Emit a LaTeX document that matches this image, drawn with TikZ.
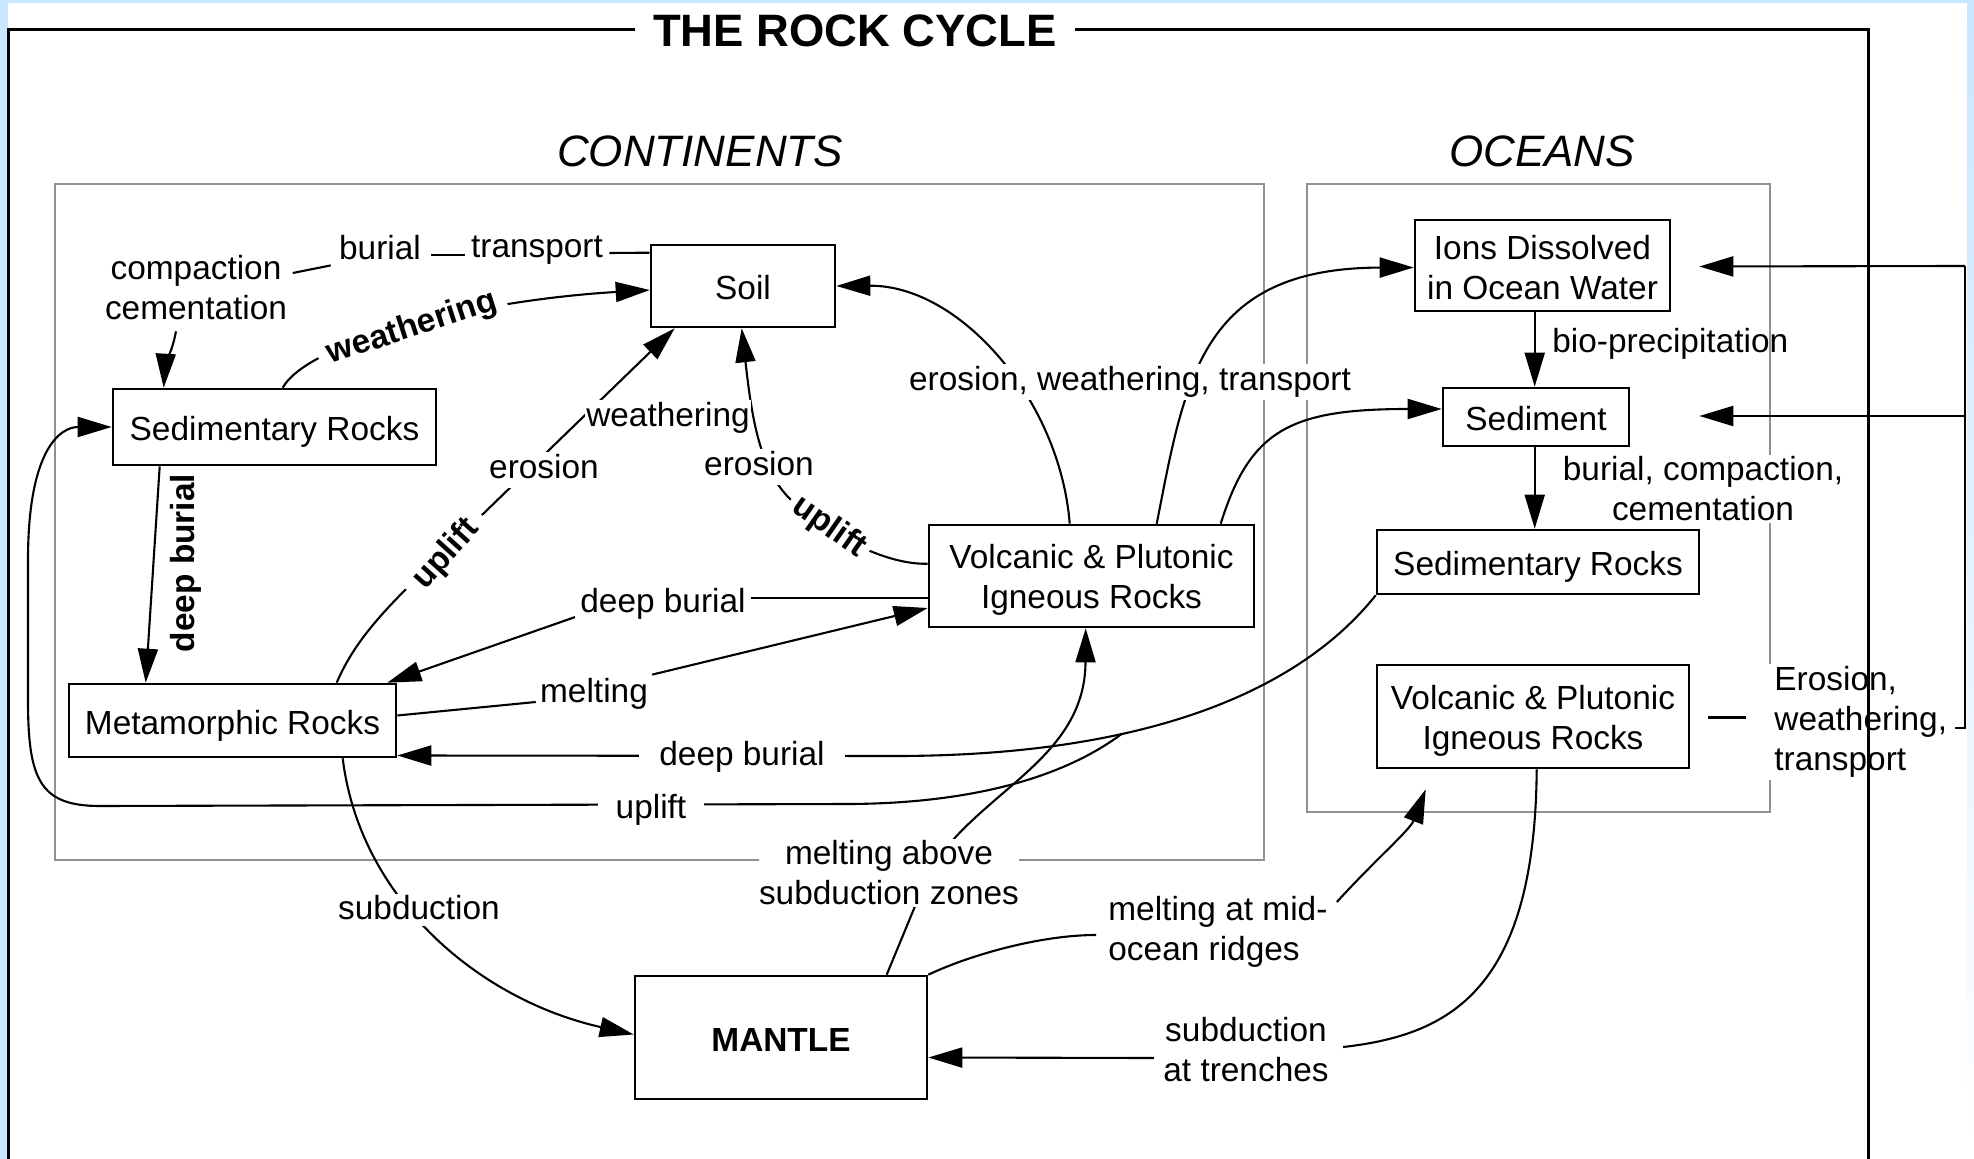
\documentclass[tikz,border=0pt]{standalone}
\usepackage{fontspec}
\setmainfont{Liberation Sans}
\usetikzlibrary{arrows.meta,calc}
\definecolor{bgblue}{RGB}{200,230,255}
\definecolor{boxgray}{RGB}{145,145,145}
\pgfdeclarelayer{fg}
\pgfdeclarelayer{top}
\pgfsetlayers{main,fg,top}
\begin{document}
\begin{tikzpicture}[x=0.5pt,y=-0.5pt,
  every node/.style={font=\fontsize{16.7}{20}\selectfont},
  rbox/.style={draw,line width=1.3pt,fill=white,align=center,inner sep=0pt},
  sbox/.style={rbox,text height=14pt,text depth=0pt},
  conn/.style={line width=1.05pt},
  arr/.style={conn,-{Triangle[length=17pt,width=10pt]}},
  lbl/.style={fill=white,inner xsep=2pt,inner ysep=1pt,text height=12.5pt,text depth=3.5pt},
  mlbl/.style={fill=white,inner xsep=2pt,inner ysep=1pt,align=center},
  blbl/.style={lbl,font=\fontsize{16.7}{20}\selectfont\bfseries},
  graybox/.style={draw=boxgray,line width=1.4pt},
  frame/.style={line width=1.5pt}
]
\useasboundingbox (0,0) rectangle (1974,1159);
% background
\fill[bgblue] (0,0) rectangle (1974,1159);
\fill[white] (8,3) rectangle (1967,1159);
\shade[top color=bgblue,bottom color=white] (1967,0) rectangle (1974,1159);

% region boxes
\draw[graybox] (55,184) rectangle (1264,860);
\draw[graybox] (1307,184) rectangle (1770,812);
\node[font=\fontsize{22}{26}\selectfont\itshape] (cont) at (700,151) {CONTINENTS};
\node[font=\fontsize{22}{26}\selectfont\itshape] (ocean) at (1542,151) {OCEANS};

% boxes
\node[sbox,minimum width=92pt,minimum height=41pt] (soil) at (743,286) {Soil};
\node[sbox,minimum width=161.5pt,minimum height=38pt] (sedc) at (274.5,427) {Sedimentary Rocks};
\node[sbox,minimum width=163.5pt,minimum height=36.5pt] (meta) at (232.5,720.5) {Metamorphic Rocks};
\node[rbox,minimum width=162.5pt,minimum height=51pt] (volc) at (1091.5,576) {\rule{0pt}{16.2pt}Volcanic \& Plutonic\\Igneous Rocks};
\node[rbox,minimum width=127.5pt,minimum height=45.5pt] (ions) at (1542.5,265.5) {\rule{0pt}{14.2pt}Ions Dissolved\\in Ocean Water};
\node[sbox,minimum width=93pt,minimum height=29pt] (sedi) at (1536,417) {Sediment};
\node[sbox,minimum width=161pt,minimum height=32pt] (sedo) at (1538,562) {Sedimentary Rocks};
\node[rbox,minimum width=156pt,minimum height=51.5pt] (volo) at (1533,716.5) {\rule{0pt}{16.2pt}Volcanic \& Plutonic\\Igneous Rocks};
\node[sbox,minimum width=146pt,minimum height=61.5pt,font=\fontsize{16.7}{20}\selectfont\bfseries] (mantle) at (781,1037.5) {MANTLE};

% labels (foreground layer)
\begin{pgfonlayer}{fg}
\node[lbl] (comp) at (196,271) {compaction};
\node[lbl] (cem) at (196,311) {cementation};
\node[lbl] (burial) at (380,251) {burial};
\node[lbl] (transport) at (537,249) {transport};
\node[blbl,rotate=18,inner xsep=5pt] (wthr1) at (412,328) {weathering};
\node[blbl,rotate=90,fill=none] (deepb1) at (185,563) {deep burial};
\node[blbl,rotate=48,inner xsep=6pt] (upl1) at (446,554) {uplift};
\node[lbl] (ero1) at (544,470) {erosion};
\node[lbl,inner xsep=0.5pt] (wthr2) at (668,418) {weathering};
\node[lbl] (ero2) at (759,467) {erosion};
\node[blbl,rotate=-35,inner xsep=3pt] (upl2) at (829,527) {uplift};
\node[lbl] (ewt1) at (1130,382) {erosion, weathering, transport};
\node[lbl,inner xsep=2.5pt] (deepb2) at (663,604) {deep burial};
\node[lbl] (melt) at (594,693) {melting};
\node[lbl,inner xsep=10pt] (deepb3) at (742,756) {deep burial};
\node[lbl,inner xsep=9pt] (upl3) at (651,809) {uplift};
\node[lbl,inner ysep=0pt] (subd) at (419,910) {subduction};
\node[mlbl,inner xsep=0pt] (masz) at (889,873) {melting above\\subduction zones};
\node[mlbl,align=left,anchor=west] (mor) at (1104,932) {melting at mid-\\ocean ridges};
\node[mlbl] (trench) at (1246,1050) {subduction\\at trenches};
\node[lbl,fill=none,anchor=west] (bio) at (1548,344) {bio-precipitation};
\node[mlbl] (bcc) at (1703,489) {burial, compaction,\\cementation};
\node[mlbl,align=left,anchor=west,inner xsep=4pt] (ewt2) at (1766,722) {Erosion,\\weathering,\\transport};
\end{pgfonlayer}

% connectors
% soil -> transport -> burial -> compaction/cementation -> sedimentary rocks
\draw[conn] ($(soil.north west)+(0,9)$) -- ($(transport.base east)+(2,-5)$);
\draw[conn] ($(transport.base west)+(-2,-3)$) -- ($(burial.base east)+(6,-5)$);
\draw[conn] ($(burial.south west)+(-4,-4)$) -- ($(comp.east)+(7,2)$);
\draw[arr] ($(cem.south)+(-20,2)$) .. controls (172,352) and (165,366) .. ($(sedc.north west)+(52,0)$);

% weathering (bold)
\draw[arr] ($(sedc.north west)+(171,0)$) .. controls (310,340) and (480,300) .. ($(soil.west)+(0,4)$);

% metamorphic -> uplift -> erosion -> weathering -> soil
\draw[arr] ($(meta.north west)+(269,0)$) .. controls (355,640) and (385,610) .. (420,575) -- ($(soil.south west)+(25,0)$);

% volcanic -> uplift -> erosion -> soil
\draw[arr] ($(volc.north west)+(0,40)$) .. controls (895,565) and (850,545) .. (829,527) -- (791,500) .. controls (760,470) and (752,420) .. ($(soil.south west)+(92,0)$);

% volcanic -> erosion, weathering, transport -> soil / ions / sediment
\draw[arr] ($(volc.north west)+(142,0)$) .. controls (1060,400) and (960,285) .. (soil.east);
\draw[arr] ($(volc.north west)+(229,0)$) .. controls (1185,380) and (1200,268) .. ($(ions.west)+(0,2)$);
\draw[arr] ($(volc.north west)+(293,0)$) .. controls (1250,430) and (1290,409) .. ($(sedi.west)+(0,-8)$);

% volcanic -> deep burial -> metamorphic
\draw[conn] ($(volc.west)+(0,22)$) -- ($(deepb2.east)+(0,-6)$);
\draw[arr] ($(deepb2.south west)+(2,-6)$) -- ($(meta.north east)+(-10,0)$);

% metamorphic -> melting -> volcanic
\draw[conn] ($(meta.east)+(0,-5)$) -- (melt.base west);
\draw[arr] (melt.north east) -- ($(volc.west)+(0,32)$);

% ocean sedimentary rocks -> deep burial -> metamorphic, with uplift branch
\draw[arr] (sedo.south west) .. controls (1300,690) and (1150,755) .. (900,756) coordinate[pos=0.66] (brn) -- ($(meta.east)+(0,35)$);
\draw[arr] (brn) .. controls (1080,765) and (1000,803) .. (850,804) -- (100,806) .. controls (40,806) and (28,780) .. (28,700) -- (28,560) .. controls (28,450) and (60,427) .. (sedc.west);

% sedimentary -> deep burial -> metamorphic
\draw[arr] ($(sedc.south west)+(48,0)$) -- ($(meta.north west)+(78,0)$);

% subduction
\draw[arr] ($(meta.south west)+(275,0)$) .. controls (360,900) and (480,1000) .. ($(mantle.west)+(0,-3)$);

% melting above subduction zones
\draw[arr] ($(mantle.north west)+(253,0)$) -- (930,870) .. controls (980,790) and (1085,760) .. ($(volc.south west)+(158,0)$);

% melting at mid-ocean ridges
\draw[conn] (mantle.north east) .. controls (970,955) and (1040,935) .. ($(mor.west)+(-8,3)$);
\draw[arr] ($(mor.east)+(5,-30)$) .. controls (1375,860) and (1410,830) .. ($(volo.south west)+(50,20)$);

% subduction at trenches
\draw[conn] ($(volo.south west)+(161,0)$) .. controls (1535,990) and (1450,1035) .. ($(trench.east)+(10,-3)$);
\draw[arr] ($(trench.west)+(-5,8)$) -- ($(mantle.east)+(0,20)$);

% ocean column
\draw[arr] ($(ions.south west)+(121,0)$) -- ($(sedi.north west)+(93,0)$);
\draw[arr] ($(sedi.south west)+(93,0)$) -- ($(sedo.north west)+(159,0)$);

% ocean volcanic -> erosion, weathering, transport -> ions / sediment
\draw[conn] ($(volo.east)+(18,1)$) -- ($(volo.east)+(56,1)$);
\coordinate (bk1) at (1965,728);
\coordinate (bk2) at (1965,266);
\coordinate (bk3) at (1965,416);
\draw[conn] ($(ewt2.east)+(-2,6)$) -- (bk1) -- (bk2);
\draw[arr] (bk2) -- ($(ions.east)+(28,1)$);
\draw[arr] (bk3) -- ($(sedi.east)+(69,-1)$);

% frame and title
\begin{pgfonlayer}{top}
\draw[frame] (8,1175) -- (8,30) -- (1868,30) -- (1868,1175);
\node[fill=white,inner xsep=9pt,inner ysep=2pt,font=\fontsize{22.7}{27}\selectfont\bfseries] (title) at (855,31) {THE ROCK CYCLE};
\end{pgfonlayer}
\end{tikzpicture}
\end{document}
